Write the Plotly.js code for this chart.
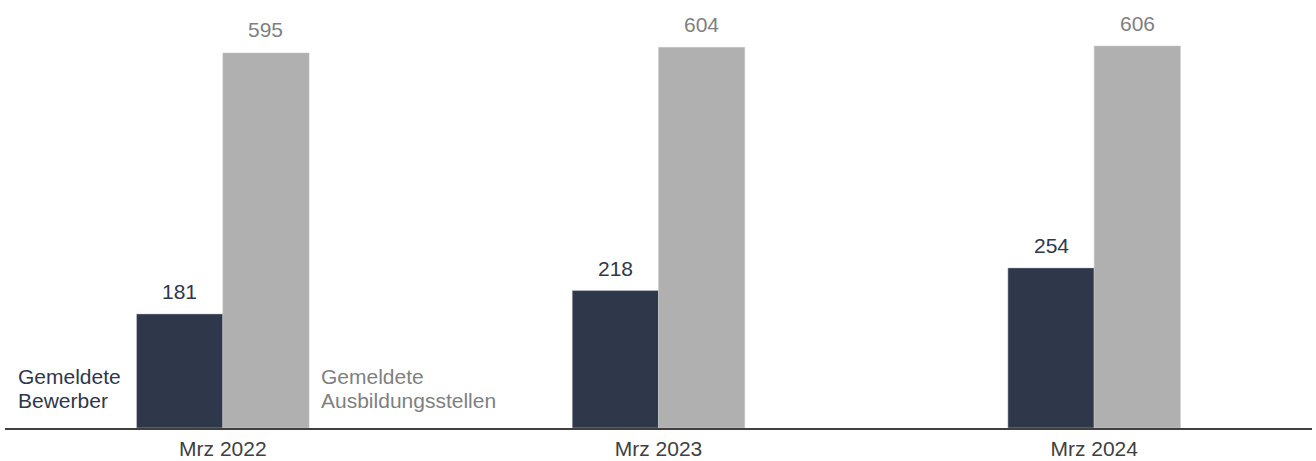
<!DOCTYPE html>
<html>
<head>
<meta charset="utf-8">
<script src="https://cdn.plot.ly/plotly-3.0.1.min.js"></script>
<style>html,body{margin:0;padding:0;background:#fff;}#chart{width:1316px;height:461px;}</style>
</head>
<body>
<div id="chart"></div>
<script>
const categories = ["Mrz 2022", "Mrz 2023", "Mrz 2024"];
const bewerber = [181, 218, 254];
const stellen = [595, 604, 606];
const seriesNames = ["Gemeldete<br>Bewerber", "Gemeldete<br>Ausbildungsstellen"];

const darkColor = "#2f374b";
const grayColor = "#b0b0b0";
const darkText = "#2f374b";
const grayText = "#808080";
const font = "Liberation Sans, Arial, sans-serif";
const fs = 21;

const idx = categories.map((c, i) => i);
const barW = 0.198;

const traces = [
  {
    type: "bar", x: idx, y: bewerber, width: barW, offset: -barW,
    marker: {color: darkColor, line: {color: "#c8cad0", width: 0.5}},
    hoverinfo: "skip", showlegend: false
  },
  {
    type: "bar", x: idx, y: stellen, width: barW, offset: 0,
    marker: {color: grayColor, line: {color: "#c8c8c8", width: 0.5}},
    hoverinfo: "skip", showlegend: false
  }
];

const annotations = [];
idx.forEach(i => {
  annotations.push({x: i - barW/2, y: bewerber[i], xref: "x", yref: "y", text: String(bewerber[i]),
    showarrow: false, yanchor: "middle", yshift: 22, font: {family: font, size: fs, color: darkText}});
  annotations.push({x: i + barW/2, y: stellen[i], xref: "x", yref: "y", text: String(stellen[i]),
    showarrow: false, yanchor: "middle", yshift: 23, font: {family: font, size: fs, color: grayText}});
});
const labelX = [0.0085, 0.2405];
const labelColors = [darkText, grayText];
const lineY = [0.1199, 0.0638];
seriesNames.forEach((name, s) => {
  name.split("<br>").forEach((line, k) => {
    annotations.push({xref: "paper", yref: "paper", x: labelX[s], y: lineY[k], xanchor: "left", yanchor: "middle",
      align: "left", showarrow: false, text: line, font: {family: font, size: fs, color: labelColors[s]}});
  });
});

const layout = {
  width: 1316, height: 461,
  margin: {l: 5, r: 4, t: 0, b: 33},
  paper_bgcolor: "#fff", plot_bgcolor: "#fff",
  barmode: "overlay",
  showlegend: false,
  xaxis: {
    range: [-0.5, 2.5], tickvals: idx, ticktext: categories,
    showgrid: false, zeroline: false, showline: true, linecolor: "#404040", linewidth: 2,
    ticks: "", ticklabelstandoff: 1, tickfont: {family: font, size: fs, color: "#404040"}, fixedrange: true
  },
  yaxis: {
    range: [0, 679], visible: false, showgrid: false, zeroline: false, fixedrange: true
  },
  annotations: annotations
};

Plotly.newPlot("chart", traces, layout, {displayModeBar: false, staticPlot: true});
</script>
</body>
</html>
